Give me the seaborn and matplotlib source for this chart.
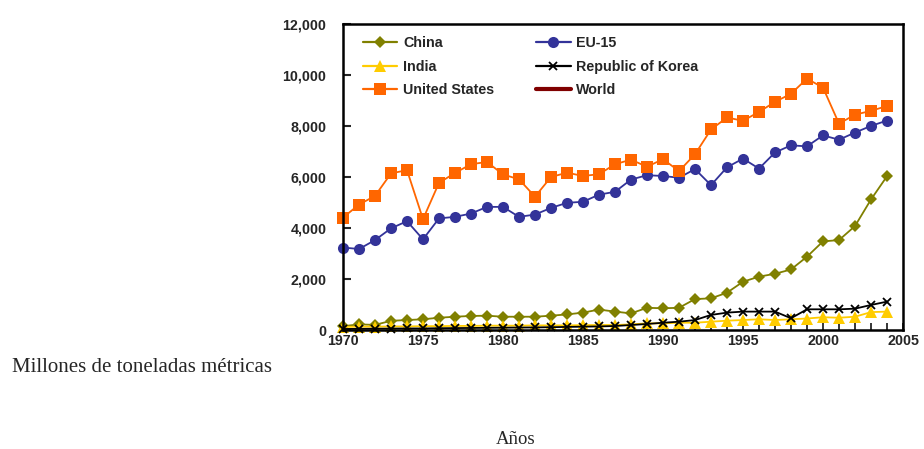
import numpy as np
import pandas as pd
import seaborn as sns
import matplotlib
matplotlib.use("Agg")
import matplotlib.pyplot as plt
from matplotlib.lines import Line2D
from matplotlib.ticker import FuncFormatter, MultipleLocator

# CO2 emissions, million metric tons, 1970-2004
years = list(range(1970, 2005))

china = [150, 220, 200, 360, 390, 420, 480, 520, 550, 560,
         520, 520, 520, 560, 610, 680, 800, 720, 650, 870,
         850, 870, 1210, 1240, 1460, 1890, 2090, 2200, 2370, 2870,
         3470, 3520, 4070, 5110, 6020]

eu15 = [3230, 3170, 3520, 3980, 4260, 3550, 4370, 4430, 4560, 4820,
        4820, 4430, 4520, 4780, 4980, 5020, 5300, 5410, 5890, 6060,
        6030, 5960, 6300, 5670, 6370, 6710, 6320, 6950, 7230, 7190,
        7620, 7450, 7730, 7990, 8200]

india = [120, 130, 130, 140, 140, 150, 150, 160, 160, 170,
         170, 170, 180, 180, 180, 190, 195, 195, 220, 260,
         260, 285, 285, 325, 365, 390, 420, 390, 420, 450,
         500, 480, 520, 700, 720]

korea = [40, 45, 50, 55, 60, 60, 70, 75, 80, 85,
         90, 95, 100, 110, 120, 130, 140, 156, 195, 235,
         285, 325, 390, 590, 680, 720, 720, 720, 460, 810,
         810, 810, 835, 980, 1110]

usa = [4400, 4910, 5250, 6130, 6260, 4340, 5760, 6150, 6490, 6580,
       6090, 5900, 5220, 5990, 6160, 6030, 6100, 6490, 6670, 6390,
       6690, 6220, 6880, 7850, 8320, 8190, 8540, 8930, 9250, 9840,
       9490, 8080, 8430, 8580, 8770]

series_names = ["China", "EU-15", "India", "Republic of Korea", "United States", "World"]
x_ticks = [1970, 1975, 1980, 1985, 1990, 1995, 2000, 2005]
y_ticks = [0, 2000, 4000, 6000, 8000, 10000, 12000]

sns.set_theme(style="white")
plt.rcParams["font.family"] = ["Liberation Sans", "DejaVu Sans"]

fig = plt.figure(figsize=(9.24, 4.49), dpi=100)
ax = fig.add_axes([343 / 924, 1 - 330 / 449, (903 - 343) / 924, (330 - 23.5) / 449])

styles = {
    "China":             dict(color="#808000", marker="D", markersize=6.5, mew=0),
    "EU-15":             dict(color="#333399", marker="o", markersize=8, mew=0),
    "India":             dict(color="#FFCC00", marker="^", markersize=8, mew=0),
    "Republic of Korea": dict(color="#000000", marker="x", markersize=6, mew=1.3),
    "United States":     dict(color="#FF6600", marker="s", markersize=9, mew=0),
}
values = {"China": china, "EU-15": eu15, "India": india,
          "Republic of Korea": korea, "United States": usa}

handles = {}
for name in ["China", "EU-15", "India", "Republic of Korea", "United States"]:
    st = styles[name]
    sns.lineplot(x=years, y=values[name], ax=ax, color=st["color"], linewidth=1.3,
                 marker=st["marker"], markersize=st["markersize"],
                 markeredgewidth=st["mew"], markeredgecolor=st["color"],
                 clip_on=False, legend=False)
    handles[name] = Line2D([], [], color=st["color"], linewidth=1.6, marker=st["marker"],
                           markersize=st["markersize"], markeredgewidth=st["mew"],
                           markeredgecolor=st["color"])
handles["World"] = Line2D([], [], color="#800000", linewidth=3)

ax.set_xlim(1970, 2005)
ax.set_ylim(0, 12000)
ax.xaxis.set_major_locator(plt.FixedLocator(x_ticks))
ax.xaxis.set_minor_locator(MultipleLocator(1))
ax.yaxis.set_major_locator(plt.FixedLocator(y_ticks))
ax.yaxis.set_major_formatter(FuncFormatter(lambda v, p: f"{int(v):,}"))

for side in ["left", "bottom", "top", "right"]:
    ax.spines[side].set_visible(True)
    ax.spines[side].set_color("black")
    ax.spines[side].set_linewidth(1.8)

ax.tick_params(axis="y", which="major", direction="in", length=6, width=1.5,
               left=True, right=False, pad=12, labelsize=10.3)
ax.tick_params(axis="x", which="both", direction="in", length=5, width=1.3,
               bottom=True, top=False, pad=3, labelsize=10.3)
for lab in ax.get_xticklabels() + ax.get_yticklabels():
    lab.set_fontweight("bold")
ax.set_xlabel("")
ax.set_ylabel("")

order = ["China", "India", "United States", "EU-15", "Republic of Korea", "World"]
ax.legend([handles[n] for n in order], order, ncol=2, loc="upper left",
          bbox_to_anchor=(7 / 560, 1.0), frameon=False, handlelength=2.4,
          handletextpad=0.4, columnspacing=2.95, labelspacing=0.65,
          borderaxespad=0.5, prop={"weight": "bold", "size": 10.3})

fig.text(12 / 924, 1 - 367 / 449, "Millones de toneladas métricas",
         family=["Liberation Serif", "DejaVu Serif"], fontsize=15,
         ha="left", va="center")
fig.text(516 / 924, 1 - 440 / 449, "Años",
         family=["Liberation Serif", "DejaVu Serif"], fontsize=13.5,
         ha="center", va="center")

fig.savefig("out.png", dpi=100)
